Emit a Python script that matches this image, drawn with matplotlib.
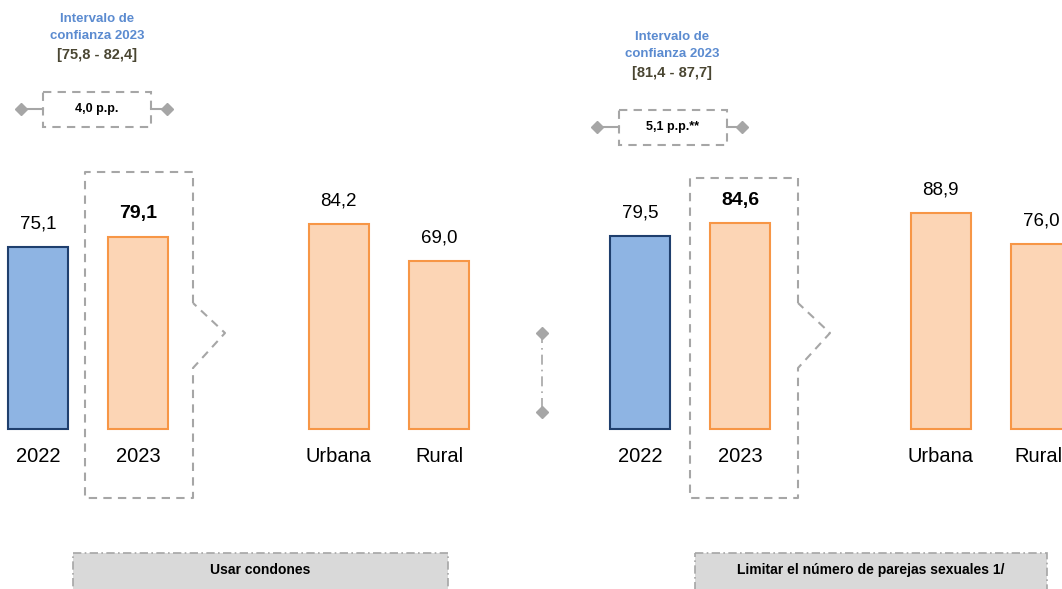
import matplotlib.pyplot as plt
from matplotlib.patches import Rectangle
from matplotlib import font_manager

# data
categories = ["2022", "2023", "Urbana", "Rural"]
condones = [75.1, 79.1, 84.2, 69.0]
parejas = [79.5, 84.6, 88.9, 76.0]
panel_titles = ["Usar condones", "Limitar el número de parejas sexuales 1/"]
intervals = ["[75,8 - 82,4]", "[81,4 - 87,7]"]
diffs = ["4,0 p.p.", "5,1 p.p.**"]

names = {f.name for f in font_manager.fontManager.ttflist}
fam = [f for f in ["Liberation Sans Narrow", "Liberation Sans", "DejaVu Sans"] if f in names]
plt.rcParams['font.family'] = fam

W, H = 1062, 589
fig = plt.figure(figsize=(W / 100, H / 100), dpi=100)

# bars axes: x in pixel units, y in value units (0 at pixel 429, 2.43 px per unit)
scale = 2.43
base = 429
ax = fig.add_axes([0, 0, 1, 1])
ax.set_xlim(0, W)
ax.set_ylim(-(H - base) / scale, base / scale)
ax.axis('off')

# overlay for decorations in pixel coords
ov = fig.add_axes([0, 0, 1, 1], zorder=3)
ov.set_xlim(0, W)
ov.set_ylim(H, 0)
ov.axis('off')
ov.patch.set_alpha(0)

blue_fill, blue_edge = "#8eb4e3", "#1f3f6e"
org_fill, org_edge = "#fcd5b5", "#f79646"
gray = "#a6a6a6"

offsets = [0, 602]
slots = [38, 138, 338.5, 439]

for g, vals in enumerate([condones, parejas]):
    xs = [s + offsets[g] for s in slots]
    fills = [blue_fill, org_fill, org_fill, org_fill]
    edges = [blue_edge, org_edge, org_edge, org_edge]
    ax.bar(xs, vals, width=60, color=fills, edgecolor=edges, linewidth=1.5, zorder=2)
    for i, (x, v) in enumerate(zip(xs, vals)):
        ax.text(x, v + 23 / scale, f"{v:.1f}".replace(".", ","), ha='center', va='center',
                fontsize=14 if i == 1 else 13.5, fontweight='bold' if i == 1 else 'normal',
                color='black')
        lx = x - 3 if (g == 1 and i == 3) else x
        ov.text(lx, 457, categories[i], ha='center', va='center', fontsize=14.5, color='black')

    o = offsets[g]
    # dashed box around 2023 with chevron on the right side
    top = 172 if g == 0 else 178
    l, r, b = 85 + o + (3 if g else 0), 193 + o + (3 if g else 0), 498
    ch_top, ch_apex, ch_bot = 303, 333, 368
    ov.plot([r, r, l, l, r, r, r + 32, r], [ch_top, top, top, b, b, ch_bot, ch_apex, ch_top],
            color=gray, lw=1.5, ls=(0, (4, 3)), zorder=1)

    # confidence interval text
    cx = 97 + o - (27 if g else 0)
    ty = 19 + (18 if g else 0)
    ov.text(cx, ty, "Intervalo de", ha='center', va='center', fontsize=9.5,
            fontweight='bold', color="#5b8bd0")
    ov.text(cx, ty + 17, "confianza 2023", ha='center', va='center', fontsize=9.5,
            fontweight='bold', color="#5b8bd0")
    ov.text(cx, ty + 36, intervals[g], ha='center', va='center', fontsize=10.5,
            fontweight='bold', color="#4a4632")

    # difference box
    by = 109 if g == 0 else 127
    bl, br = (43, 151) if g == 0 else (619, 727)
    dl, dr = (21, 167) if g == 0 else (597, 742)
    ov.add_patch(Rectangle((bl, by - 17.5), br - bl, 35, fill=False, ec=gray, lw=1.5,
                           ls=(0, (4, 3))))
    ov.plot([dl, bl], [by, by], color=gray, lw=1.5)
    ov.plot([br, dr], [by, by], color=gray, lw=1.5)
    ov.plot([dl, dr], [by, by], ls='none', marker='D', ms=6, color=gray)
    ov.text((bl + br) / 2, by, diffs[g], ha='center', va='center', fontsize=9,
            fontweight='bold', color='black')

    # bottom title box
    tl, tr = (73, 448) if g == 0 else (695, 1047)
    ov.add_patch(Rectangle((tl, 553), tr - tl, 50, fc="#d9d9d9", ec=gray, lw=1.2,
                           ls=(0, (5, 2, 1, 2))))
    ov.text((tl + tr) / 2, 570, panel_titles[g], ha='center', va='center', fontsize=10,
            fontweight='bold', color='black')

# center separator
ov.plot([542, 542], [333, 412], color=gray, lw=1.2, ls=(0, (6, 3, 1, 3)))
ov.plot([542, 542], [333, 412], ls='none', marker='D', ms=6, color=gray)

fig.savefig("out.png", dpi=100)
